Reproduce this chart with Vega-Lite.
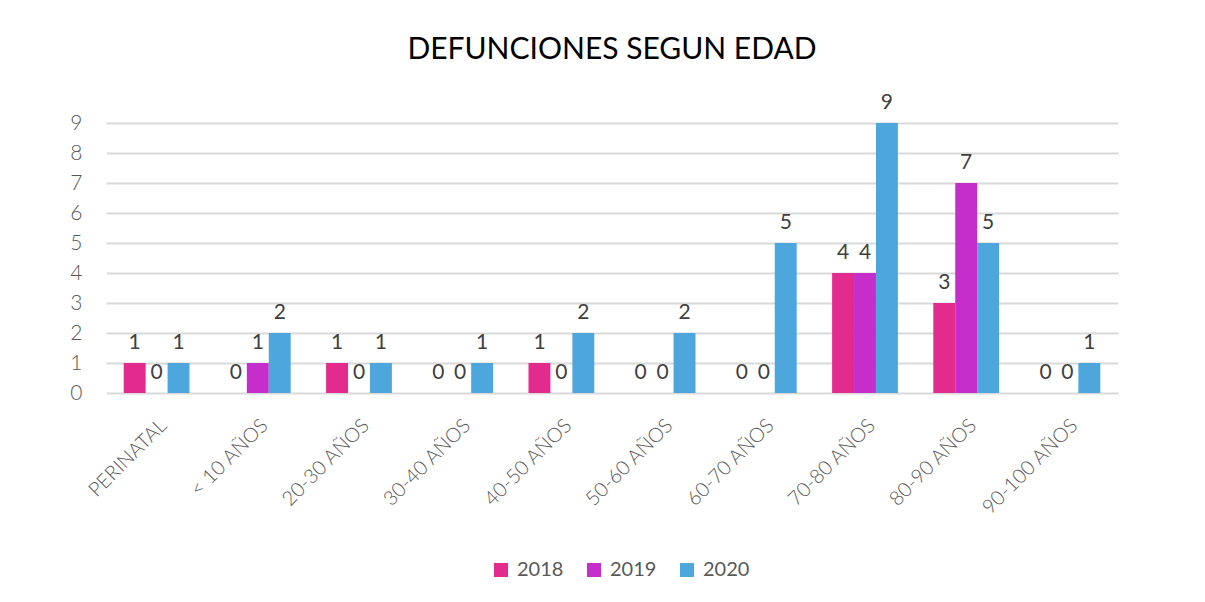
{
  "$schema": "https://vega.github.io/schema/vega-lite/v6.json",
  "width": 1012,
  "height": 270,
  "autosize": {"type": "none"},
  "padding": {"left": 106, "top": 123, "right": 87, "bottom": 209},
  "background": "white",
  "title": {"text": "DEFUNCIONES SEGUN EDAD", "fontSize": 30, "font": "Lato", "fontWeight": "normal", "color": "#000000", "anchor": "middle", "offset": 27},
  "config": {"view": {"stroke": null}, "font": "Lato"},
  "data": {"values": [
    {"grupo": "PERINATAL", "anio": "2018", "valor": 1},
    {"grupo": "PERINATAL", "anio": "2019", "valor": 0},
    {"grupo": "PERINATAL", "anio": "2020", "valor": 1},
    {"grupo": "< 10 AÑOS", "anio": "2018", "valor": 0},
    {"grupo": "< 10 AÑOS", "anio": "2019", "valor": 1},
    {"grupo": "< 10 AÑOS", "anio": "2020", "valor": 2},
    {"grupo": "20-30 AÑOS", "anio": "2018", "valor": 1},
    {"grupo": "20-30 AÑOS", "anio": "2019", "valor": 0},
    {"grupo": "20-30 AÑOS", "anio": "2020", "valor": 1},
    {"grupo": "30-40 AÑOS", "anio": "2018", "valor": 0},
    {"grupo": "30-40 AÑOS", "anio": "2019", "valor": 0},
    {"grupo": "30-40 AÑOS", "anio": "2020", "valor": 1},
    {"grupo": "40-50 AÑOS", "anio": "2018", "valor": 1},
    {"grupo": "40-50 AÑOS", "anio": "2019", "valor": 0},
    {"grupo": "40-50 AÑOS", "anio": "2020", "valor": 2},
    {"grupo": "50-60 AÑOS", "anio": "2018", "valor": 0},
    {"grupo": "50-60 AÑOS", "anio": "2019", "valor": 0},
    {"grupo": "50-60 AÑOS", "anio": "2020", "valor": 2},
    {"grupo": "60-70 AÑOS", "anio": "2018", "valor": 0},
    {"grupo": "60-70 AÑOS", "anio": "2019", "valor": 0},
    {"grupo": "60-70 AÑOS", "anio": "2020", "valor": 5},
    {"grupo": "70-80 AÑOS", "anio": "2018", "valor": 4},
    {"grupo": "70-80 AÑOS", "anio": "2019", "valor": 4},
    {"grupo": "70-80 AÑOS", "anio": "2020", "valor": 9},
    {"grupo": "80-90 AÑOS", "anio": "2018", "valor": 3},
    {"grupo": "80-90 AÑOS", "anio": "2019", "valor": 7},
    {"grupo": "80-90 AÑOS", "anio": "2020", "valor": 5},
    {"grupo": "90-100 AÑOS", "anio": "2018", "valor": 0},
    {"grupo": "90-100 AÑOS", "anio": "2019", "valor": 0},
    {"grupo": "90-100 AÑOS", "anio": "2020", "valor": 1}
  ]},
  "encoding": {
    "x": {
      "field": "grupo", "type": "nominal",
      "sort": ["PERINATAL", "< 10 AÑOS", "20-30 AÑOS", "30-40 AÑOS", "40-50 AÑOS", "50-60 AÑOS", "60-70 AÑOS", "70-80 AÑOS", "80-90 AÑOS", "90-100 AÑOS"],
      "scale": {"paddingInner": 0.35, "paddingOuter": 0.175},
      "axis": {"title": null, "labelAngle": -45, "labelFontSize": 20, "labelColor": "#595959", "domain": false, "ticks": false, "labelPadding": 22, "labelFont": "Lato", "labelFontWeight": 300}
    },
    "xOffset": {"field": "anio", "type": "nominal", "sort": ["2018", "2019", "2020"]},
    "y": {
      "field": "valor", "type": "quantitative",
      "scale": {"domain": [0, 9], "nice": false},
      "axis": {"title": null, "values": [0,1,2,3,4,5,6,7,8,9], "labelFontSize": 21, "labelColor": "#595959", "domain": false, "ticks": false, "labelPadding": 24, "gridColor": "#D9D9D9", "gridWidth": 2, "labelFont": "Lato", "labelFontWeight": 300}
    }
  },
  "layer": [
    {
      "mark": {"type": "bar"},
      "encoding": {
        "color": {
          "field": "anio", "type": "nominal",
          "scale": {"domain": ["2018", "2019", "2020"], "range": ["#E32B8E", "#C62ECB", "#4DA7DC"]},
          "legend": {"title": null, "orient": "none", "legendX": 385, "legendY": 437, "direction": "horizontal", "symbolType": "square", "symbolSize": 196, "symbolStrokeWidth": 0, "labelFontSize": 20, "labelColor": "#595959", "labelOffset": 6, "columnPadding": 20, "labelFont": "Lato"}
        }
      }
    },
    {
      "mark": {"type": "text", "baseline": "bottom", "dy": -10, "fontSize": 21, "color": "#404040", "font": "Lato"},
      "encoding": {"text": {"field": "valor", "type": "quantitative"}}
    }
  ]
}
